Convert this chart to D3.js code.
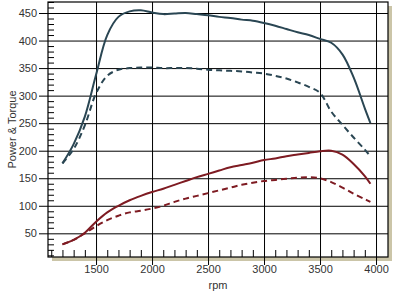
<!DOCTYPE html>
<html>
<head>
<meta charset="utf-8">
<script src="https://cdn.jsdelivr.net/npm/d3@7"></script>
<style>
  body { margin: 0; background: #fff; }
  svg { display: block; font-family: "Liberation Sans", Arial, sans-serif; }
</style>
</head>
<body>
<div id="chart"></div>
<script>
// data
var rpm = [1200, 1300, 1400, 1500, 1600, 1700, 1800, 1900, 2000, 2100, 2200, 2300, 2400, 2500,
           2600, 2700, 2800, 2900, 3000, 3100, 3200, 3300, 3400, 3500, 3600, 3700, 3800, 3900, 3950];
var torque_tuned = [177, 212, 262, 338, 410, 443, 453, 455, 451, 448, 449, 450, 448, 446,
                    443, 441, 438, 436, 432, 427, 421, 415, 410, 403, 396, 375, 333, 277, 250];
var torque_stock = [177, 203, 246, 304, 336, 347, 350, 351, 351, 350, 350, 350, 349, 347,
                    346, 345, 344, 342, 340, 336, 331, 324, 316, 305, 271, 247, 224, 202, 190];
var power_tuned = [30, 38, 51, 71, 88, 100, 110, 118, 125, 131, 138, 145, 152, 158,
                   164, 170, 174, 178, 183, 186, 190, 193, 196, 199, 200, 193, 176, 154, 140];
var power_stock = [30, 38, 50, 63, 74, 82, 88, 91, 95, 100, 107, 113, 118, 123,
                   128, 133, 138, 142, 145, 147, 149, 151, 152, 150, 143, 133, 122, 112, 107];
var x_ticks = [1500, 2000, 2500, 3000, 3500, 4000];
var y_ticks = [50, 100, 150, 200, 250, 300, 350, 400, 450];

var chart_width = 403, chart_height = 297;
var plot_left = 48, plot_top = 2, plot_right = 388, plot_bottom = 257;
var font = '"Liberation Sans", Arial, sans-serif';

var svg = d3.select('#chart').append('svg')
    .attr('width', chart_width)
    .attr('height', chart_height);

var x_scale = d3.scaleLinear().domain([1071, 4107]).range([plot_left, plot_right]);
var y_scale = d3.scaleLinear().domain([7, 470]).range([plot_bottom, plot_top]);

// shadow + plot background
svg.append('rect')
    .attr('x', plot_left + 4).attr('y', plot_top + 4)
    .attr('width', plot_right - plot_left).attr('height', plot_bottom - plot_top)
    .attr('fill', '#cbc5a8');
svg.append('rect')
    .attr('x', plot_left).attr('y', plot_top)
    .attr('width', plot_right - plot_left).attr('height', plot_bottom - plot_top)
    .attr('fill', '#fff');

// minor ticks
var x_minor = d3.range(1100, 4001, 100).filter(function (d) { return d % 500 !== 0; });
var y_minor = d3.range(10, 471, 10).filter(function (d) { return d % 50 !== 0; });

svg.append('g')
    .attr('transform', 'translate(0,' + plot_bottom + ')')
    .call(d3.axisBottom(x_scale).tickValues(x_minor).tickSize(-7).tickFormat(''))
    .call(function (g) { g.select('.domain').remove(); })
    .selectAll('line').attr('stroke', '#000');

svg.append('g')
    .attr('transform', 'translate(' + plot_left + ',0)')
    .call(d3.axisLeft(y_scale).tickValues(y_minor).tickSize(-6).tickFormat(''))
    .call(function (g) { g.select('.domain').remove(); })
    .selectAll('line').attr('stroke', '#000');

// major grid + labels
var x_axis = svg.append('g')
    .attr('transform', 'translate(0,' + plot_bottom + ')')
    .call(d3.axisBottom(x_scale).tickValues(x_ticks).tickFormat(d3.format('d'))
        .tickSizeInner(-(plot_bottom - plot_top)).tickSizeOuter(0).tickPadding(8));
x_axis.select('.domain').remove();
x_axis.selectAll('line').attr('y1', 8).attr('stroke', '#000');
x_axis.selectAll('text').attr('font-size', 11).attr('fill', '#333').attr('font-family', font);

var y_axis = svg.append('g')
    .attr('transform', 'translate(' + plot_left + ',0)')
    .call(d3.axisLeft(y_scale).tickValues(y_ticks).tickFormat(d3.format('d'))
        .tickSizeInner(-(plot_right - plot_left)).tickSizeOuter(0).tickPadding(11));
y_axis.select('.domain').remove();
y_axis.selectAll('line').attr('x1', -9).attr('stroke', '#000');
y_axis.selectAll('text').attr('font-size', 11).attr('fill', '#333').attr('font-family', font);

// frame
svg.append('rect')
    .attr('x', plot_left).attr('y', plot_top)
    .attr('width', plot_right - plot_left).attr('height', plot_bottom - plot_top)
    .attr('fill', 'none').attr('stroke', '#000').attr('stroke-width', 1.2);

// curves
var line = d3.line()
    .x(function (d, i) { return x_scale(rpm[i]); })
    .y(function (d) { return y_scale(d); })
    .curve(d3.curveCatmullRom.alpha(0.5));

var series = [
    { values: torque_stock, color: '#2a4653', dash: '6,4' },
    { values: power_stock, color: '#7e1b22', dash: '6,4' },
    { values: torque_tuned, color: '#2a4653', dash: null },
    { values: power_tuned, color: '#7e1b22', dash: null }
];

svg.selectAll('path.curve')
    .data(series)
    .enter()
    .append('path')
    .attr('class', 'curve')
    .attr('d', function (d) { return line(d.values); })
    .attr('fill', 'none')
    .attr('stroke', function (d) { return d.color; })
    .attr('stroke-width', 2)
    .attr('stroke-dasharray', function (d) { return d.dash; });

// axis titles
svg.append('text')
    .text('rpm')
    .attr('x', (plot_left + plot_right) / 2)
    .attr('y', 289)
    .attr('text-anchor', 'middle')
    .attr('font-size', 11)
    .attr('fill', '#333');

svg.append('text')
    .text('Power & Torque')
    .attr('transform', 'translate(16,' + (plot_top + plot_bottom) / 2 + ') rotate(-90)')
    .attr('text-anchor', 'middle')
    .attr('font-size', 11)
    .attr('fill', '#333');
</script>
</body>
</html>
